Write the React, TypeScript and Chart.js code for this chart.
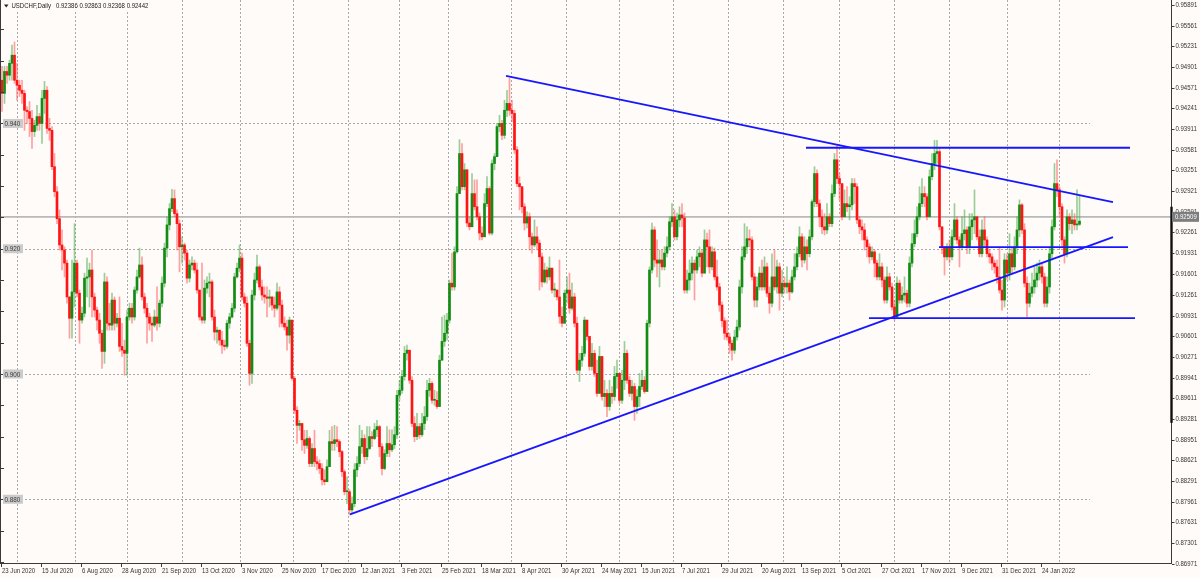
import React, { useEffect, useRef } from "react";
import { Chart, registerables } from "chart.js";

Chart.register(...registerables);

// ---------- DATA (prices in pips: value / 10000) ----------
const SYMBOL = "USDCHF,Daily";
const HEADER_OHLC = ["0.92386", "0.92863", "0.92368", "0.92442"];
const FIRST_OPEN = 9469;

const CLOSE = [
  9448, 9483, 9477, 9496, 9509, 9469, 9461, 9453, 9448, 9421,
  9419, 9408, 9387, 9397, 9411, 9400, 9440, 9453, 9392, 9389,
  9331, 9291, 9248, 9206, 9198, 9177, 9123, 9089, 9131, 9177,
  9129, 9086, 9097, 9153, 9155, 9166, 9123, 9102, 9086, 9065,
  9036, 9147, 9081, 9078, 9118, 9081, 9089, 9044, 9038, 9033,
  9091, 9105, 9091, 9134, 9155, 9174, 9123, 9105, 9091, 9081,
  9078, 9091, 9081, 9113, 9145, 9201, 9238, 9264, 9280, 9256,
  9240, 9203, 9206, 9193, 9153, 9174, 9177, 9166, 9134, 9091,
  9086, 9137, 9145, 9147, 9091, 9067, 9070, 9054, 9046, 9044,
  9081, 9091, 9105, 9155, 9169, 9185, 9123, 9113, 9049, 9001,
  9126, 9150, 9171, 9139, 9126, 9123, 9121, 9123, 9110, 9105,
  9131, 9110, 9081, 9075, 9062, 9086, 8993, 8942, 8918, 8921,
  8895, 8886, 8897, 8857, 8881, 8860, 8857, 8849, 8831, 8828,
  8852, 8892, 8889, 8895, 8892, 8876, 8844, 8812, 8812, 8783,
  8793, 8847, 8857, 8884, 8897, 8868, 8881, 8900, 8897, 8911,
  8916, 8884, 8849, 8873, 8889, 8879, 8887, 8903, 8966, 8974,
  8996, 9033, 9038, 8990, 8921, 8900, 8916, 8903, 8921, 8932,
  8974, 8985, 8958, 8958, 8948, 9022, 9052, 9065, 9086, 9145,
  9139, 9195, 9288, 9352, 9299, 9326, 9241, 9235, 9288, 9267,
  9251, 9225, 9219, 9272, 9296, 9225, 9336, 9347, 9395, 9400,
  9381, 9421, 9432, 9421, 9416, 9358, 9304, 9299, 9267, 9241,
  9251, 9219, 9206, 9219, 9209, 9187, 9147, 9166, 9155, 9169,
  9134, 9134, 9123, 9092, 9081, 9129, 9134, 9105, 9123, 9081,
  9006, 9022, 9033, 9086, 9060, 9012, 9033, 9001, 8969, 9028,
  8964, 8969, 8948, 8969, 8964, 8996, 9001, 8958, 8990, 9033,
  8990, 8969, 8980, 8948, 8964, 8980, 8990, 8972, 9081, 9166,
  9230, 9182, 9177, 9182, 9171, 9193, 9203, 9243, 9251, 9219,
  9246, 9254, 9249, 9134, 9150, 9161, 9177, 9166, 9187, 9193,
  9161, 9214, 9203, 9171, 9195, 9155, 9139, 9110, 9085, 9065,
  9059, 9049, 9038, 9059, 9075, 9139, 9187, 9203, 9216, 9214,
  9155, 9118, 9139, 9161, 9139, 9171, 9129, 9113, 9155, 9139,
  9171, 9129, 9145, 9139, 9145, 9131, 9155, 9171, 9192, 9219,
  9182, 9203, 9192, 9219, 9275, 9320, 9272, 9251, 9235, 9230,
  9251, 9240, 9288, 9342, 9312, 9304, 9251, 9272, 9267, 9270,
  9304, 9299, 9246, 9235, 9230, 9214, 9203, 9187, 9195, 9177,
  9155, 9171, 9150, 9118, 9155, 9139, 9107, 9091, 9145, 9118,
  9126, 9129, 9113, 9177, 9208, 9224, 9251, 9272, 9288, 9283,
  9251, 9315, 9336, 9352, 9355, 9235, 9203, 9187, 9203, 9187,
  9219, 9246, 9214, 9203, 9224, 9230, 9203, 9235, 9246, 9251,
  9219, 9192, 9230, 9214, 9192, 9187, 9177, 9171, 9155, 9134,
  9118, 9182, 9161, 9192, 9171, 9203, 9230, 9270, 9230, 9145,
  9113, 9129, 9139, 9150, 9161, 9171, 9155, 9113, 9139, 9192,
  9235, 9304, 9294, 9267, 9214, 9192, 9251, 9240, 9246, 9238,
  9239, 9244,
];

const HIGH = [
  9491, 9491, 9491, 9501, 9525, 9530, 9496, 9469, 9469, 9453,
  9427, 9435, 9421, 9405, 9429, 9416, 9453, 9467, 9459, 9408,
  9395, 9352, 9299, 9262, 9230, 9203, 9182, 9123, 9182, 9240,
  9182, 9134, 9107, 9161, 9185, 9177, 9198, 9129, 9107, 9097,
  9070, 9161, 9155, 9113, 9129, 9123, 9097, 9123, 9081, 9054,
  9102, 9113, 9113, 9139, 9166, 9201, 9187, 9129, 9113, 9097,
  9091, 9102, 9139, 9118, 9155, 9209, 9251, 9272, 9295, 9294,
  9262, 9246, 9219, 9209, 9198, 9182, 9187, 9182, 9177, 9134,
  9177, 9150, 9155, 9161, 9150, 9102, 9075, 9070, 9068, 9054,
  9086, 9097, 9113, 9161, 9177, 9206, 9193, 9129, 9123, 9054,
  9134, 9161, 9190, 9174, 9150, 9139, 9139, 9134, 9123, 9123,
  9145, 9139, 9118, 9091, 9086, 9091, 9086, 8996, 8948, 8926,
  8921, 8910, 8910, 8900, 8889, 8910, 8868, 8863, 8857, 8847,
  8863, 8910, 8916, 8918, 8916, 8895, 8878, 8847, 8836, 8815,
  8804, 8857, 8868, 8918, 8910, 8903, 8916, 8916, 8908, 8921,
  8926, 8918, 8889, 8879, 8916, 8911, 8911, 8916, 8974, 8990,
  9006, 9044, 9046, 9038, 8996, 8932, 8937, 8921, 8937, 8948,
  8990, 8993, 8988, 8974, 8972, 9030, 9091, 9094, 9097, 9150,
  9193, 9203, 9299, 9374, 9368, 9336, 9326, 9251, 9320, 9310,
  9310, 9257, 9235, 9288, 9315, 9299, 9342, 9352, 9400, 9413,
  9405, 9437, 9453, 9472, 9437, 9421, 9363, 9315, 9299, 9272,
  9259, 9257, 9225, 9246, 9235, 9214, 9193, 9177, 9171, 9187,
  9166, 9145, 9134, 9182, 9107, 9134, 9155, 9161, 9145, 9129,
  9091, 9033, 9044, 9091, 9081, 9060, 9049, 9038, 9022, 9044,
  9006, 8990, 8975, 8990, 8980, 9012, 9022, 9001, 9006, 9052,
  9038, 8996, 8990, 8985, 8975, 9001, 9006, 8996, 9086, 9171,
  9241, 9235, 9214, 9198, 9198, 9203, 9219, 9251, 9272, 9262,
  9257, 9267, 9272, 9257, 9166, 9182, 9187, 9182, 9198, 9203,
  9198, 9230, 9225, 9230, 9203, 9201, 9182, 9145, 9115, 9090,
  9086, 9065, 9054, 9070, 9086, 9150, 9203, 9240, 9235, 9230,
  9219, 9161, 9155, 9171, 9182, 9187, 9177, 9139, 9192, 9198,
  9182, 9177, 9166, 9155, 9171, 9150, 9166, 9192, 9203, 9235,
  9224, 9219, 9214, 9230, 9278, 9331, 9326, 9278, 9262, 9256,
  9272, 9256, 9302, 9352, 9365, 9320, 9304, 9294, 9299, 9283,
  9312, 9312, 9304, 9251, 9246, 9240, 9219, 9208, 9203, 9198,
  9182, 9192, 9177, 9155, 9171, 9161, 9145, 9118, 9155, 9150,
  9139, 9155, 9134, 9187, 9224, 9246, 9267, 9299, 9312, 9299,
  9288, 9326, 9352, 9373, 9373, 9360, 9235, 9203, 9208, 9214,
  9230, 9272, 9251, 9219, 9251, 9262, 9235, 9256, 9256, 9294,
  9251, 9230, 9246, 9251, 9219, 9198, 9192, 9182, 9182, 9203,
  9150, 9192, 9192, 9224, 9203, 9219, 9251, 9278, 9272, 9240,
  9155, 9145, 9161, 9171, 9177, 9182, 9177, 9161, 9155, 9203,
  9246, 9336, 9342, 9299, 9272, 9219, 9262, 9256, 9262, 9256,
  9294, 9286,
];

const LOW = [
  9419, 9432, 9464, 9469, 9469, 9464, 9437, 9443, 9432, 9389,
  9400, 9379, 9360, 9379, 9389, 9389, 9368, 9416, 9384, 9373,
  9326, 9283, 9240, 9198, 9166, 9155, 9113, 9057, 9057, 9107,
  9123, 9049, 9081, 9091, 9123, 9107, 9091, 9091, 9070, 9049,
  9009, 9017, 9070, 9070, 9070, 9070, 9075, 9036, 9028, 8998,
  8998, 9086, 9081, 9086, 9129, 9153, 9118, 9097, 9049, 9070,
  9052, 9075, 9070, 9075, 9107, 9139, 9187, 9230, 9259, 9251,
  9198, 9163, 9177, 9182, 9145, 9147, 9166, 9161, 9129, 9086,
  9081, 9081, 9129, 9123, 9086, 9054, 9049, 9046, 9033, 9038,
  9041, 9073, 9089, 9099, 9153, 9163, 9118, 9107, 9044, 8982,
  8985, 9118, 9145, 9134, 9118, 9113, 9091, 9107, 9102, 9091,
  9102, 9075, 9075, 9070, 9038, 9049, 8990, 8937, 8889, 8910,
  8878, 8873, 8881, 8852, 8852, 8852, 8847, 8841, 8823, 8823,
  8836, 8852, 8878, 8878, 8884, 8868, 8836, 8807, 8793, 8775,
  8778, 8788, 8836, 8852, 8873, 8857, 8863, 8879, 8884, 8895,
  8900, 8868, 8839, 8847, 8868, 8868, 8876, 8881, 8897, 8958,
  8969, 8990, 9022, 8985, 8916, 8892, 8895, 8897, 8900, 8911,
  8926, 8964, 8953, 8950, 8945, 8948, 9022, 9044, 9054, 9081,
  9134, 9134, 9193, 9310, 9294, 9294, 9235, 9230, 9235, 9262,
  9246, 9214, 9214, 9219, 9267, 9222, 9222, 9326, 9347, 9387,
  9374, 9376, 9411, 9413, 9403, 9352, 9299, 9262, 9257, 9230,
  9233, 9198, 9193, 9203, 9198, 9134, 9139, 9145, 9145, 9150,
  9129, 9123, 9118, 9081, 9075, 9081, 9113, 9097, 9102, 9075,
  9001, 8988, 9012, 9028, 9054, 9006, 9006, 8996, 8964, 8969,
  8958, 8948, 8932, 8942, 8953, 8958, 8977, 8953, 8953, 8975,
  8985, 8964, 8958, 8926, 8937, 8948, 8975, 8969, 8972, 9075,
  9161, 9171, 9155, 9139, 9166, 9166, 9187, 9198, 9235, 9214,
  9214, 9235, 9235, 9129, 9129, 9134, 9150, 9118, 9161, 9171,
  9155, 9177, 9171, 9161, 9166, 9150, 9134, 9100, 9075, 9055,
  9054, 9033, 9022, 9033, 9054, 9070, 9129, 9182, 9192, 9203,
  9150, 9107, 9107, 9134, 9134, 9134, 9123, 9097, 9107, 9134,
  9129, 9102, 9123, 9129, 9129, 9118, 9129, 9150, 9166, 9187,
  9171, 9177, 9166, 9187, 9214, 9267, 9267, 9235, 9224, 9222,
  9224, 9235, 9235, 9283, 9304, 9278, 9246, 9251, 9259, 9246,
  9262, 9272, 9240, 9224, 9214, 9198, 9187, 9177, 9182, 9155,
  9150, 9150, 9139, 9113, 9113, 9134, 9102, 9086, 9089, 9113,
  9113, 9115, 9107, 9107, 9171, 9203, 9219, 9246, 9267, 9267,
  9246, 9251, 9310, 9326, 9336, 9230, 9192, 9158, 9182, 9177,
  9182, 9214, 9208, 9171, 9198, 9214, 9192, 9192, 9214, 9224,
  9214, 9187, 9187, 9203, 9187, 9177, 9166, 9161, 9145, 9129,
  9102, 9107, 9150, 9150, 9161, 9166, 9192, 9219, 9224, 9139,
  9091, 9107, 9123, 9129, 9139, 9150, 9145, 9107, 9107, 9129,
  9182, 9230, 9283, 9251, 9203, 9177, 9187, 9230, 9224, 9230,
  9230, 9237,
];

// bottom axis labels and the bar index they sit on
const DATE_LABELS = [
  "23 Jun 2020", "15 Jul 2020", "6 Aug 2020", "28 Aug 2020", "21 Sep 2020", "13 Oct 2020",
  "3 Nov 2020", "25 Nov 2020", "17 Dec 2020", "12 Jan 2021", "3 Feb 2021", "25 Feb 2021",
  "18 Mar 2021", "8 Apr 2021", "30 Apr 2021", "24 May 2021", "15 Jun 2021", "7 Jul 2021",
  "29 Jul 2021", "20 Aug 2021", "13 Sep 2021", "5 Oct 2021", "27 Oct 2021", "17 Nov 2021",
  "9 Dec 2021", "31 Dec 2021", "24 Jan 2022",
];
const DATE_LABEL_BARS = [
  0, 16, 32, 48, 64, 80, 96, 112, 128, 144, 160, 176, 192, 208,
  224, 240, 256, 272, 288, 304, 320, 336, 352, 368, 384, 400, 416,
];
// month separators (bar index)
const MONTH_GRID_BARS = [
  6, 29.2, 50, 72, 95.2, 116.4, 138.4, 158.8, 178.4, 203.5,
  225.5, 246.7, 268.5, 290.5, 312.4, 334.8, 356.8, 378.8, 401.9, 422.8,
];
const GRID_END_BAR = 435.2;

const RIGHT_TICK_LABELS = [
  "0.95891", "0.95561", "0.95231", "0.94901", "0.94571", "0.94241", "0.93911",
  "0.93581", "0.93251", "0.92921", "0.92591", "0.92261", "0.91931", "0.91601",
  "0.91261", "0.90931", "0.90601", "0.90271", "0.89941", "0.89611", "0.89281",
  "0.88951", "0.88621", "0.88291", "0.87961", "0.87631", "0.87301", "0.86971",
];
const LEFT_LABELS = ["0.940", "0.920", "0.900", "0.880"];
const LEFT_MINOR_TICKS = [
  0.955, 0.95, 0.945, 0.94, 0.935, 0.93, 0.925, 0.92, 0.915, 0.91,
  0.905, 0.9, 0.895, 0.89, 0.885, 0.88, 0.875, 0.87,
];
const BID_PRICE = "0.92509";
const AXIS_RANGE_MARK = [0.8922, 0.9267];

// trend lines [barIndex, price]
const TREND_DOWN = [[201.6, 0.9476], [444.4, 0.92745]];
const TREND_UP = [[139.2, 0.8776], [444.4, 0.92186]];
const LEVEL_TOP = [[321.6, 0.93612], [451.2, 0.93612]];
const LEVEL_MID = [[374.8, 0.92026], [450.4, 0.92026]];
const LEVEL_LOW = [[346.8, 0.90893], [453.2, 0.90893]];

// ---------- STYLE ----------
const BG = "#fffbf9";
const UP_BODY = "#128c12";
const UP_WICK = "rgba(70,170,70,0.55)";
const DN_BODY = "#ff1414";
const DN_WICK = "rgba(255,70,70,0.5)";
const LINE_BLUE = "#1717ff";
const FONT = "'Liberation Sans', Arial, sans-serif";
const SX = 0.86;

function txt(ctx: any, s: string, x: number, y: number, size: number, color: string, align = "left") {
  ctx.save();
  ctx.font = `${size}px ${FONT}`;
  ctx.fillStyle = color;
  ctx.textBaseline = "middle";
  ctx.textAlign = align;
  ctx.translate(x, y);
  ctx.scale(SX, 1);
  ctx.fillText(s, 0, 0);
  ctx.restore();
}
function txtWidth(ctx: any, s: string, size: number) {
  ctx.save();
  ctx.font = `${size}px ${FONT}`;
  const w = ctx.measureText(s).width * SX;
  ctx.restore();
  return w;
}
function seg(ctx: any, x1: number, y1: number, x2: number, y2: number) {
  ctx.beginPath();
  ctx.moveTo(x1, y1);
  ctx.lineTo(x2, y2);
  ctx.stroke();
}

const decorPlugin = {
  id: "mt4decor",
  beforeDraw(chart: any) {
    const { ctx, width, height } = chart;
    ctx.save();
    ctx.fillStyle = BG;
    ctx.fillRect(0, 0, width, height);
    ctx.restore();
  },
  beforeDatasetsDraw(chart: any) {
    const ctx = chart.ctx;
    const xs = chart.scales.x;
    const ys = chart.scales.y;
    const a = chart.chartArea;
    ctx.save();
    ctx.strokeStyle = "#a9a9a9";
    ctx.lineWidth = 1;
    ctx.setLineDash([2, 2]);
    const gx = xs.getPixelForValue(GRID_END_BAR);
    for (const s of LEFT_LABELS) {
      const y = Math.round(ys.getPixelForValue(parseFloat(s))) + 0.5;
      seg(ctx, a.left, y, gx, y);
    }
    for (const b of MONTH_GRID_BARS) {
      const x = Math.round(xs.getPixelForValue(b)) + 0.5;
      seg(ctx, x, a.top, x, a.bottom);
    }
    ctx.setLineDash([]);
    // bid price line
    ctx.strokeStyle = "#b9b9b9";
    ctx.lineWidth = 1.6;
    const py = ys.getPixelForValue(parseFloat(BID_PRICE));
    seg(ctx, a.left, py, a.right, py);
    ctx.restore();
  },
  afterDraw(chart: any) {
    const ctx = chart.ctx;
    const xs = chart.scales.x;
    const ys = chart.scales.y;
    const a = chart.chartArea;
    ctx.save();
    ctx.strokeStyle = "#3a3a3a";
    ctx.lineWidth = 1;
    // axes lines
    seg(ctx, a.left - 0.5, a.top, a.left - 0.5, a.bottom + 0.5);
    seg(ctx, a.right + 0.5, a.top, a.right + 0.5, a.bottom + 0.5);
    seg(ctx, a.left - 1, a.bottom + 0.5, a.right + 1, a.bottom + 0.5);
    // thick range mark on right axis
    ctx.lineWidth = 2.4;
    ctx.strokeStyle = "#111";
    seg(ctx, a.right + 0.5, ys.getPixelForValue(AXIS_RANGE_MARK[1]), a.right + 0.5, ys.getPixelForValue(AXIS_RANGE_MARK[0]));
    ctx.lineWidth = 1;
    ctx.strokeStyle = "#3a3a3a";
    // left minor ticks
    for (const v of LEFT_MINOR_TICKS) {
      const y = Math.round(ys.getPixelForValue(v)) + 0.5;
      seg(ctx, a.left, y, a.left + 3, y);
    }
    // left labels boxes
    for (const s of LEFT_LABELS) {
      const y = ys.getPixelForValue(parseFloat(s));
      ctx.fillStyle = "#cbcbcb";
      ctx.fillRect(a.left + 2, y - 4.5, 20, 9);
      txt(ctx, s, a.left + 3.5, y + 0.5, 7.4, "#3c3c3c");
    }
    // right ticks and labels
    for (const s of RIGHT_TICK_LABELS) {
      const y = Math.round(ys.getPixelForValue(parseFloat(s))) + 0.5;
      seg(ctx, a.right + 1, y, a.right + 3.5, y);
      txt(ctx, s, a.right + 4.5, y, 7, "#333");
    }
    // bid label
    const py = ys.getPixelForValue(parseFloat(BID_PRICE));
    ctx.fillStyle = "#7d7d7d";
    ctx.fillRect(a.right + 1, py - 5, 27, 10);
    txt(ctx, BID_PRICE, a.right + 4, py + 0.5, 7, "#ffffff");
    // bottom ticks and date labels
    DATE_LABEL_BARS.forEach((b, k) => {
      const x = Math.round(xs.getPixelForValue(b)) - 0.5;
      seg(ctx, x, a.bottom + 1, x, a.bottom + 4);
      txt(ctx, DATE_LABELS[k], x + 0.5, a.bottom + 8.5, 7, "#333");
    });
    // header
    const hx = 11.5;
    let cur = hx;
    const parts = [SYMBOL, ...HEADER_OHLC];
    ctx.fillStyle = BG;
    let total = 0;
    parts.forEach((p, k) => { total += txtWidth(ctx, p, 7) + (k === 0 ? 5 : 1.8); });
    ctx.fillRect(2, 0, hx + total, 12);
    ctx.fillStyle = "#222";
    ctx.beginPath();
    ctx.moveTo(4, 4.5);
    ctx.lineTo(8.5, 4.5);
    ctx.lineTo(6.25, 7.5);
    ctx.closePath();
    ctx.fill();
    parts.forEach((p, k) => {
      txt(ctx, p, cur, 6.5, 7, "#222");
      cur += txtWidth(ctx, p, 7) + (k === 0 ? 5 : 1.8);
    });
    ctx.restore();
  },
};

export default function App() {
  const ref = useRef<HTMLCanvasElement | null>(null);
  useEffect(() => {
    document.body.style.margin = "0";
    document.body.style.overflow = "hidden";
    const canvas = ref.current;
    if (!canvas) return;

    const bars = CLOSE.map((c, i) => {
      const o = i === 0 ? FIRST_OPEN : CLOSE[i - 1];
      const h = Math.max(HIGH[i], o, c);
      const l = Math.min(LOW[i], o, c);
      return { i, o: o / 1e4, h: h / 1e4, l: l / 1e4, c: c / 1e4, up: c >= o };
    });

    const lineDs = (pts: number[][]) => ({
      type: "line",
      data: pts.map(([x, y]) => ({ x, y })),
      borderColor: LINE_BLUE,
      borderWidth: 1.8,
      pointRadius: 0,
      fill: false,
      order: 0,
    });

    const chart = new Chart(canvas, {
      type: "bar",
      data: {
        datasets: [
          {
            type: "bar",
            data: bars.map((b) => ({ x: b.i, y: [b.l, b.h] })),
            backgroundColor: bars.map((b) => (b.up ? UP_WICK : DN_WICK)),
            barThickness: 1,
            grouped: false,
            borderWidth: 0,
            order: 2,
          },
          {
            type: "bar",
            data: bars.map((b) => ({ x: b.i, y: [b.o, b.c] })),
            backgroundColor: bars.map((b) => (b.up ? UP_BODY : DN_BODY)),
            barThickness: 2,
            minBarLength: 1,
            grouped: false,
            borderWidth: 0,
            order: 1,
          },
          lineDs(TREND_DOWN),
          lineDs(TREND_UP),
          lineDs(LEVEL_TOP),
          lineDs(LEVEL_MID),
          lineDs(LEVEL_LOW),
        ] as any,
      },
      options: {
        animation: false,
        responsive: false,
        devicePixelRatio: 1,
        events: [],
        layout: { padding: { left: 1, right: 29, top: 0, bottom: 15 } },
        plugins: { legend: { display: false }, tooltip: { enabled: false } },
        scales: {
          x: { type: "linear", display: false, min: -0.4, max: 467.6, offset: false },
          y: { type: "linear", display: false, min: 0.869823, max: 0.959708 },
        },
      } as any,
      plugins: [decorPlugin],
    });
    return () => chart.destroy();
  }, []);

  return (
    <div style={{ position: "fixed", left: 0, top: 0, width: 1200, height: 578 }}>
      <canvas ref={ref} width={1200} height={578} style={{ display: "block", width: 1200, height: 578 }} />
    </div>
  );
}
